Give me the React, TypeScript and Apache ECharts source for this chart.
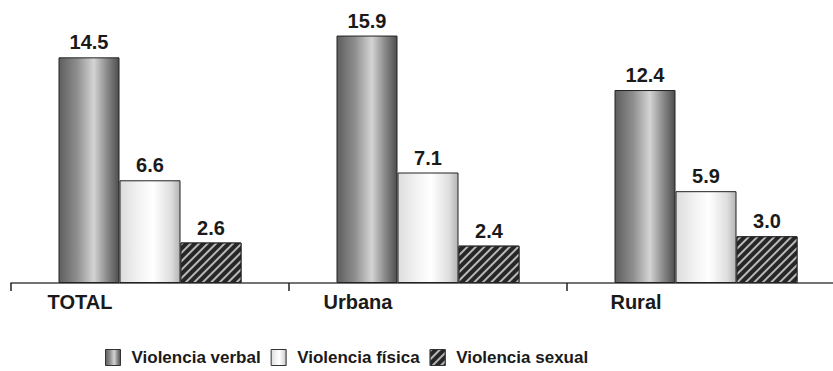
import React, { useEffect, useRef } from "react";
import * as echarts from "echarts";

const categories = ["TOTAL", "Urbana", "Rural"];
const seriesNames = ["Violencia verbal", "Violencia física", "Violencia sexual"];
const verbal = [14.5, 15.9, 12.4];
const fisica = [6.6, 7.1, 5.9];
const sexual = [2.6, 2.4, 3.0];

export default function App() {
  const ref = useRef<HTMLDivElement>(null);
  useEffect(() => {
    if (!ref.current) return;
    const chart = echarts.init(ref.current, null, { renderer: "svg" });
    const verbalColor = new echarts.graphic.LinearGradient(0, 0, 1, 0, [
      { offset: 0, color: "#5e5e5e" },
      { offset: 0.3, color: "#8e8e8e" },
      { offset: 0.58, color: "#d4d4d4" },
      { offset: 0.8, color: "#8a8a8a" },
      { offset: 1, color: "#4e4e4e" },
    ]);
    const fisicaColor = new echarts.graphic.LinearGradient(0, 0, 1, 0, [
      { offset: 0, color: "#dcdcdc" },
      { offset: 0.3, color: "#f2f2f2" },
      { offset: 0.55, color: "#ffffff" },
      { offset: 0.85, color: "#dedede" },
      { offset: 1, color: "#b4b4b4" },
    ]);
    const labelStyle = {
      show: true,
      position: "top" as const,
      distance: 5,
      fontFamily: "'Liberation Sans', Arial, sans-serif",
      fontWeight: "bold" as const,
      fontSize: 20,
      color: "#1a1a1a",
      formatter: (p: any) => Number(p.value).toFixed(1),
    };
    const border = { borderColor: "#222", borderWidth: 1 };
    chart.setOption({
      animation: false,
      grid: { left: 11, top: 34, width: 834, height: 249, outerBoundsMode: "none", containLabel: false },
      xAxis: {
        type: "category",
        data: categories,
        axisLine: { lineStyle: { color: "#444", width: 1.5 } },
        axisTick: { show: true, length: 8, lineStyle: { color: "#222", width: 1.5 } },
        axisLabel: {
          margin: 9,
          padding: [0, 140, 0, 0],
          fontFamily: "'Liberation Sans', Arial, sans-serif",
          fontWeight: "bold",
          fontSize: 20,
          color: "#1a1a1a",
        },
      },
      yAxis: { type: "value", min: 0, max: 16, show: false },
      legend: {
        left: 105,
        top: 349,
        padding: 0,
        itemWidth: 15,
        itemHeight: 16,
        itemGap: 10,
        icon: "rect",
        textStyle: {
          fontFamily: "'Liberation Sans', Arial, sans-serif",
          fontWeight: "bold",
          fontSize: 17,
          color: "#1a1a1a",
          padding: [0, 0, 0, 6],
        },
        itemStyle: { borderColor: "#333", borderWidth: 1 },
      },
      series: [
        {
          name: seriesNames[0],
          type: "bar",
          data: verbal,
          barWidth: 61,
          barGap: "0%",
          itemStyle: { color: verbalColor, ...border },
          label: labelStyle,
        },
        {
          name: seriesNames[1],
          type: "bar",
          data: fisica,
          barWidth: 61,
          barGap: "0%",
          itemStyle: { color: fisicaColor, ...border },
          label: labelStyle,
        },
        {
          name: seriesNames[2],
          type: "bar",
          data: sexual,
          barWidth: 61,
          barGap: "0%",
          itemStyle: {
            color: "#262626",
            ...border,
            decal: {
              symbol: "rect",
              symbolSize: 1,
              dashArrayX: [1, 0],
              dashArrayY: [2, 4],
              rotation: -Math.PI / 4,
              color: "#b8b8b8",
            },
          },
          label: labelStyle,
        },
      ],
    });
    return () => chart.dispose();
  }, []);
  return (
    <div
      ref={ref}
      style={{ position: "fixed", left: 0, top: 0, width: 833, height: 371, background: "#fff" }}
    />
  );
}
